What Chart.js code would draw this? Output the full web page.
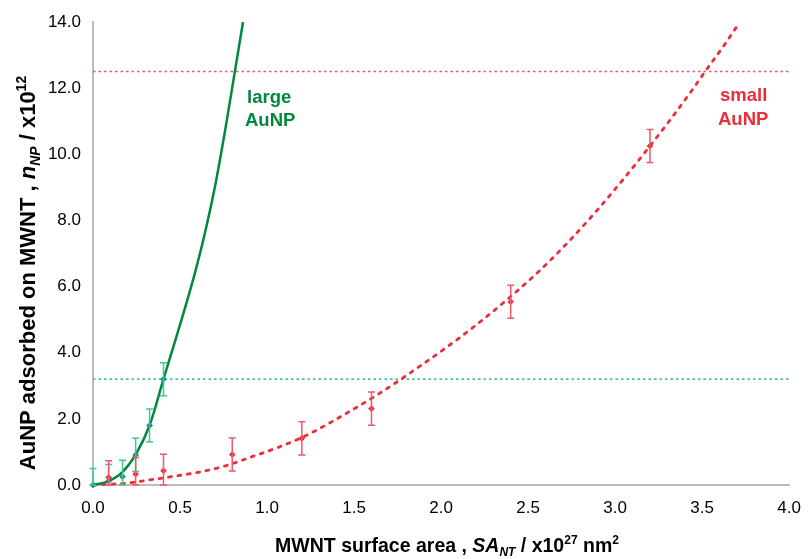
<!DOCTYPE html>
<html>
<head>
<meta charset="utf-8">
<script src="https://cdn.jsdelivr.net/npm/chart.js@4/dist/chart.umd.min.js"></script>
<style>
html,body{margin:0;padding:0;background:#fff;}
#wrap{width:808px;height:559px;position:relative;}
</style>
</head>
<body>
<div id="wrap"><canvas id="c" width="808" height="559"></canvas></div>
<script>
// ---- data ----
const xTickLabels = ["0.0","0.5","1.0","1.5","2.0","2.5","3.0","3.5","4.0"];
const yTickLabels = ["0.0","2.0","4.0","6.0","8.0","10.0","12.0","14.0"];

// large AuNP measured points
const largeX   = [0, 0.09, 0.17, 0.245, 0.325, 0.405];
const largeY   = [0, 0.12, 0.25, 0.91, 1.80, 3.20];
const largeErr = [0.5, 0.5, 0.5, 0.5, 0.5, 0.5];

// small AuNP measured points
const smallX   = [0.09, 0.245, 0.405, 0.80, 1.20, 1.60, 2.40, 3.20];
const smallY   = [0.23, 0.33, 0.43, 0.92, 1.41, 2.31, 5.54, 10.25];
const smallErr = [0.5, 0.5, 0.5, 0.5, 0.5, 0.5, 0.5, 0.5];

// fitted curves
const largeFitX = [0, 0.09, 0.17, 0.245, 0.325, 0.405, 0.46, 0.52, 0.58, 0.64, 0.70, 0.76, 0.815, 0.862];
const largeFitY = [0, 0.12, 0.40, 0.92, 1.80, 3.20, 4.15, 5.20, 6.30, 7.55, 9.00, 10.75, 12.5, 14.0];

const smallFitX = [0, 0.2, 0.32, 0.45, 0.62, 0.755, 0.905, 1.07, 1.23, 1.43, 1.64, 1.88, 2.08, 2.24, 2.40, 2.57, 2.74, 2.89, 3.04, 3.17, 3.30, 3.43, 3.51, 3.64, 3.71];
const smallFitY = [0, 0.06, 0.15, 0.25, 0.40, 0.57, 0.84, 1.15, 1.51, 2.09, 2.75, 3.60, 4.35, 5.00, 5.70, 6.50, 7.40, 8.27, 9.20, 10.05, 10.93, 11.85, 12.45, 13.40, 13.95];

// horizontal reference levels
const largeLimit = 3.2;
const smallLimit = 12.5;
const xRange = [0, 4];

const toXY = (xs, ys) => xs.map((x, i) => ({x: x, y: ys[i]}));

const GREEN = '#00893d';
const GREEN_PT = '#138a7e';
const GREEN_ERR = '#44c497';
const RED = '#ee2d3a';
const RED_ERR = '#ec5a66';

const FONT = '"Liberation Sans", Arial, sans-serif';

const errorBarPlugin = {
  id: 'errbars',
  afterDatasetsDraw(chart) {
    const ctx = chart.ctx, xs = chart.scales.x, ys = chart.scales.y;
    const draw = (X, Y, E, col) => {
      ctx.save();
      ctx.strokeStyle = col; ctx.lineWidth = 1.5;
      X.forEach((x, i) => {
        const px = xs.getPixelForValue(x);
        const top = ys.getPixelForValue(Y[i] + E[i]);
        const bot = ys.getPixelForValue(Math.max(0, Y[i] - E[i]));
        ctx.beginPath();
        ctx.moveTo(px, top); ctx.lineTo(px, bot);
        ctx.moveTo(px - 3.5, top); ctx.lineTo(px + 3.5, top);
        ctx.moveTo(px - 3.5, bot); ctx.lineTo(px + 3.5, bot);
        ctx.stroke();
      });
      ctx.restore();
    };
    draw(largeX, largeY, largeErr, GREEN_ERR);
    draw(smallX, smallY, smallErr, RED_ERR);
  }
};

function measureRich(ctx, parts, size) {
  let w = 0;
  parts.forEach(p => {
    const s = (p.sub || p.sup) ? Math.round(size * 0.62) : size;
    ctx.font = (p.it ? 'italic ' : '') + 'bold ' + s + 'px ' + FONT;
    p._w = ctx.measureText(p.t).width; p._s = s; w += p._w;
  });
  return w;
}
function paintRich(ctx, parts, x0, baseline, size) {
  let x = x0;
  parts.forEach(p => {
    ctx.font = (p.it ? 'italic ' : '') + 'bold ' + p._s + 'px ' + FONT;
    let dy = 0;
    if (p.sub) dy = size * 0.22;
    if (p.sup) dy = -size * 0.42;
    ctx.fillText(p.t, x, baseline + dy);
    x += p._w;
  });
}

const textPlugin = {
  id: 'texts',
  afterDraw(chart) {
    const ctx = chart.ctx;
    ctx.save();
    ctx.fillStyle = '#000';
    ctx.textBaseline = 'alphabetic';
    ctx.textAlign = 'left';
    // x title
    const xs = 19.5;
    const xp = [{t:'MWNT surface area , '},{t:'SA',it:1},{t:'NT',it:1,sub:1},{t:' / x10'},{t:'27',sup:1},{t:' nm'},{t:'2',sup:1}];
    const wx = measureRich(ctx, xp, xs);
    paintRich(ctx, xp, 447 - wx/2, 552, xs);
    // y title
    const ys = 22;
    const yp = [{t:'AuNP adsorbed on MWNT , '},{t:'n',it:1},{t:'NP',it:1,sub:1},{t:' / x10'},{t:'12',sup:1}];
    const wy = measureRich(ctx, yp, ys);
    ctx.translate(35, 273);
    ctx.rotate(-Math.PI/2);
    paintRich(ctx, yp, -wy/2, 0, ys);
    ctx.restore();

    // series labels
    ctx.save();
    ctx.font = 'bold 18.5px ' + FONT;
    ctx.textAlign = 'left';
    ctx.textBaseline = 'alphabetic';
    ctx.fillStyle = GREEN;
    ctx.fillText('large', 247, 103);
    ctx.fillText('AuNP', 245, 126);
    ctx.fillStyle = RED;
    ctx.fillText('small', 720, 101);
    ctx.fillText('AuNP', 718, 125);
    ctx.restore();
  }
};

new Chart(document.getElementById('c'), {
  type: 'scatter',
  data: {
    datasets: [
      { label: 'large fit', data: toXY(largeFitX, largeFitY), showLine: true, borderColor: GREEN, borderWidth: 2.5,
        pointRadius: 0, cubicInterpolationMode: 'monotone', fill: false, order: 3 },
      { label: 'small fit', data: toXY(smallFitX, smallFitY), showLine: true, borderColor: RED, borderWidth: 2.8,
        borderDash: [3, 6.5], borderCapStyle: 'round', pointRadius: 0, cubicInterpolationMode: 'monotone', fill: false, order: 3 },
      { label: 'large limit', data: [{x: xRange[0], y: largeLimit}, {x: xRange[1], y: largeLimit}], showLine: true,
        borderColor: GREEN_ERR, borderWidth: 1.8, borderDash: [2.5, 3], pointRadius: 0, order: 4 },
      { label: 'small limit', data: [{x: xRange[0], y: smallLimit}, {x: xRange[1], y: smallLimit}], showLine: true,
        borderColor: RED_ERR, borderWidth: 1.5, borderDash: [2.5, 3], pointRadius: 0, order: 4 },
      { label: 'large', data: toXY(largeX, largeY), showLine: false, pointStyle: 'rectRot', pointRadius: 2.8,
        backgroundColor: GREEN_PT, borderColor: GREEN_PT, order: 1 },
      { label: 'small', data: toXY(smallX, smallY), showLine: false, pointStyle: 'rectRot', pointRadius: 2.8,
        backgroundColor: RED, borderColor: RED, order: 1 }
    ]
  },
  options: {
    responsive: false,
    animation: false,
    clip: false,
    layout: { padding: { left: 0, right: 13, top: 22, bottom: 0 } },
    plugins: { legend: { display: false }, tooltip: { enabled: false } },
    scales: {
      x: {
        type: 'linear', min: 0, max: 4,
        grid: { display: false, drawTicks: true, tickLength: 6, tickColor: '#bdbdbd' },
        border: { color: '#bdbdbd', width: 2 },
        ticks: { stepSize: 0.5, color: '#000', padding: 7, font: { family: FONT, size: 17 },
                 callback: (v, i) => xTickLabels[i] },
        afterFit: s => { s.height = 74; }
      },
      y: {
        type: 'linear', min: 0, max: 14,
        grid: { display: false, drawTicks: true, tickLength: 6, tickColor: '#bdbdbd' },
        border: { color: '#bdbdbd', width: 2 },
        ticks: { stepSize: 2, color: '#000', padding: 6, font: { family: FONT, size: 17 },
                 callback: (v, i) => yTickLabels[i] },
        afterFit: s => { s.width = 93; }
      }
    }
  },
  plugins: [errorBarPlugin, textPlugin]
});
</script>
</body>
</html>
